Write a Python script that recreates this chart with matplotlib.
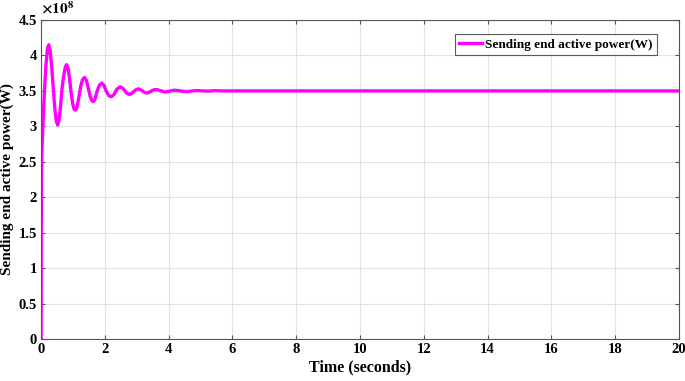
import matplotlib
matplotlib.use("Agg")
import matplotlib.pyplot as plt
from matplotlib.ticker import FuncFormatter
import numpy as np

# sending end active power (units of 1e8 W)
time_s = [0, 0.003, 0.01, 0.02, 0.05, 0.1, 0.15, 0.2, 0.24, 0.28, 0.33, 0.38, 0.43,
          0.48, 0.52, 0.56, 0.61, 0.66, 0.71, 0.76, 0.80, 0.84, 0.89, 0.94, 0.99,
          1.04, 1.08, 1.12, 1.18, 1.24, 1.30, 1.36, 1.42, 1.48, 1.54, 1.60, 1.64,
          1.69, 1.76, 1.83, 1.90, 1.97, 2.05, 2.13, 2.21, 2.29, 2.37, 2.48, 2.58,
          2.68, 2.77, 2.86, 2.95, 3.05, 3.15, 3.24, 3.33, 3.43, 3.53, 3.63, 3.76,
          3.89, 4.02, 4.16, 4.30, 4.45, 4.60, 4.75, 4.90, 5.05, 5.25, 5.45, 5.7, 20]
power_e8 = [0, 1.2, 2.3, 2.6, 2.95, 3.45, 3.85, 4.10, 4.15, 4.08, 3.85, 3.55, 3.25,
            3.07, 3.02, 3.08, 3.28, 3.55, 3.72, 3.84, 3.87, 3.83, 3.68, 3.48, 3.32,
            3.24, 3.23, 3.26, 3.40, 3.56, 3.66, 3.69, 3.65, 3.54, 3.42, 3.36, 3.35,
            3.38, 3.50, 3.58, 3.61, 3.58, 3.49, 3.43, 3.42, 3.45, 3.52, 3.56, 3.53,
            3.47, 3.45, 3.47, 3.51, 3.53, 3.51, 3.48, 3.47, 3.49, 3.515, 3.52, 3.50,
            3.485, 3.495, 3.51, 3.505, 3.495, 3.49, 3.50, 3.505, 3.50, 3.497, 3.503, 3.50, 3.50]

x_ticks = list(range(0, 21, 2))
y_ticks_e8 = [0, 0.5, 1, 1.5, 2, 2.5, 3, 3.5, 4, 4.5]

plt.rcParams['font.family'] = ['Liberation Serif', 'DejaVu Serif']
plt.rcParams['font.weight'] = 'bold'
plt.rcParams['mathtext.fontset'] = 'stix'

fig = plt.figure(figsize=(6.85, 3.81), dpi=100)
ax = fig.add_axes([0.060, 0.110, 0.931, 0.8375])

t = np.array(time_s)
p = np.array(power_e8) * 1e8
ax.plot(t, p, color='#ff00ff', lw=2.4, label='Sending end active power(W)')

ax.set_xlim(0, 20)
ax.set_ylim(0, 4.5e8)
ax.set_xticks(x_ticks)
ax.set_yticks(np.array(y_ticks_e8) * 1e8)
ax.yaxis.set_major_formatter(FuncFormatter(lambda v, pos: '%g' % (v / 1e8)))
ax.text(0.0, 1.012, r'$\times10^{8}$', transform=ax.transAxes, fontsize=11,
        ha='left', va='bottom')

ax.grid(True, color='#e3e3e3', lw=0.8)
ax.tick_params(direction='in', top=True, right=True, labelsize=10.5, length=3,
               color='#555555', pad=3)
for lab in ax.get_xticklabels() + ax.get_yticklabels():
    lab.set_fontweight('bold')
for s in ax.spines.values():
    s.set_color('#555555')
    s.set_linewidth(0.8)

ax.set_xlabel('Time (seconds)', fontsize=11.5, fontweight='bold', labelpad=2)
ax.set_ylabel('Sending end active power(W)', fontsize=11, fontweight='bold', labelpad=3)

leg = ax.legend(loc='upper right', bbox_to_anchor=(0.965, 0.955),
                prop={'weight': 'bold', 'size': 9.5}, fancybox=False,
                handlelength=1.8, handletextpad=0.2, borderpad=0.3, borderaxespad=0)
leg.get_frame().set_edgecolor('#333333')
leg.get_frame().set_linewidth(0.8)

fig.savefig('out.png', dpi=100)
